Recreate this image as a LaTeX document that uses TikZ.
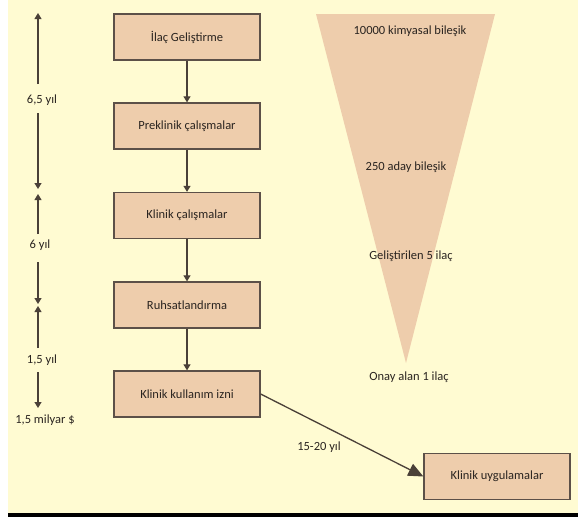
\documentclass[tikz,border=0pt]{standalone}
\usepackage{fontspec}
\setmainfont{Carlito}
\usetikzlibrary{arrows.meta}
\definecolor{bgyellow}{HTML}{FFFBD2}
\definecolor{boxfill}{HTML}{EECDAC}
\definecolor{boxline}{HTML}{5C5048}
\definecolor{arrline}{HTML}{4A4038}
\definecolor{txt}{HTML}{2A2420}
\tikzset{
  stepbox/.style={draw=boxline, line width=1.3pt, fill=boxfill, minimum width=146pt, minimum height=46pt, inner sep=0pt, text=txt, font=\fontsize{12.5}{15}\selectfont},
  lbl/.style={text=txt, font=\fontsize{12.5}{15}\selectfont, inner sep=0pt},
  smallarr/.style={draw=arrline, line width=1.1pt, -{Triangle[width=7pt,length=6pt]}},
  bigarr/.style={draw=arrline, line width=1.3pt, -{Triangle[width=13pt,length=15pt]}},
  plainline/.style={draw=arrline, line width=1.1pt}
}
\begin{document}
\begin{tikzpicture}[x=1pt,y=-1pt]
\useasboundingbox (0,0) rectangle (578,517);
\fill[white] (0,0) rectangle (578,517);
\fill[bgyellow] (8,0) rectangle (578,513);
\fill[black] (8,513) rectangle (578,517);
% funnel
\fill[boxfill] (316,14) -- (495,14) -- (406,363) -- cycle;
\node[lbl] (f1) at (410,31) {10000 kimyasal bileşik};
\node[lbl] (f2) at (406,167) {250 aday bileşik};
\node[lbl] (f3) at (411,256) {Geliştirilen 5 ilaç};
\node[lbl] (f4) at (409,377) {Onay alan 1 ilaç};
% boxes
\node[stepbox] (b1) at (187,37) {İlaç Geliştirme};
\node[stepbox] (b2) at (187,126) {Preklinik çalışmalar};
\node[stepbox] (b3) at (187,215.5) {Klinik çalışmalar};
\node[stepbox] (b4) at (187,305) {Ruhsatlandırma};
\node[stepbox] (b5) at (187,394) {Klinik kullanım izni};
\node[stepbox] (b6) at (497,476.5) {Klinik uygulamalar};
\draw[smallarr] (b1) -- (b2);
\draw[smallarr] (b2) -- (b3);
\draw[smallarr] (b3) -- (b4);
\draw[smallarr] (b4) -- (b5);
\draw[bigarr] (b5.east) -- (b6.west);
\node[lbl] (t15) at (319,447) {15-20 yıl};
% timeline
\node[lbl] (y1) at (42,100) {6,5 yıl};
\node[lbl] (y2) at (40,245) {6 yıl};
\node[lbl] (y3) at (42,360) {1,5 yıl};
\node[lbl] (y4) at (45,420) {1,5 milyar \$};
\coordinate (a1t) at (38,13);
\coordinate (a1s) at (38,84);
\coordinate (a1e) at (38,113);
\coordinate (a1b) at (38,189);
\coordinate (a2t) at (38,194);
\coordinate (a2s) at (38,234);
\coordinate (a2e) at (38,262);
\coordinate (a2b) at (38,304);
\coordinate (a3t) at (38,306);
\coordinate (a3s) at (38,348);
\coordinate (a3e) at (38,372);
\coordinate (a3b) at (38,408);
\draw[smallarr] (a1s) -- (a1t);
\draw[smallarr] (a1e) -- (a1b);
\draw[smallarr] (a2s) -- (a2t);
\draw[smallarr] (a2e) -- (a2b);
\draw[smallarr] (a3s) -- (a3t);
\draw[smallarr] (a3e) -- (a3b);
\end{tikzpicture}
\end{document}
